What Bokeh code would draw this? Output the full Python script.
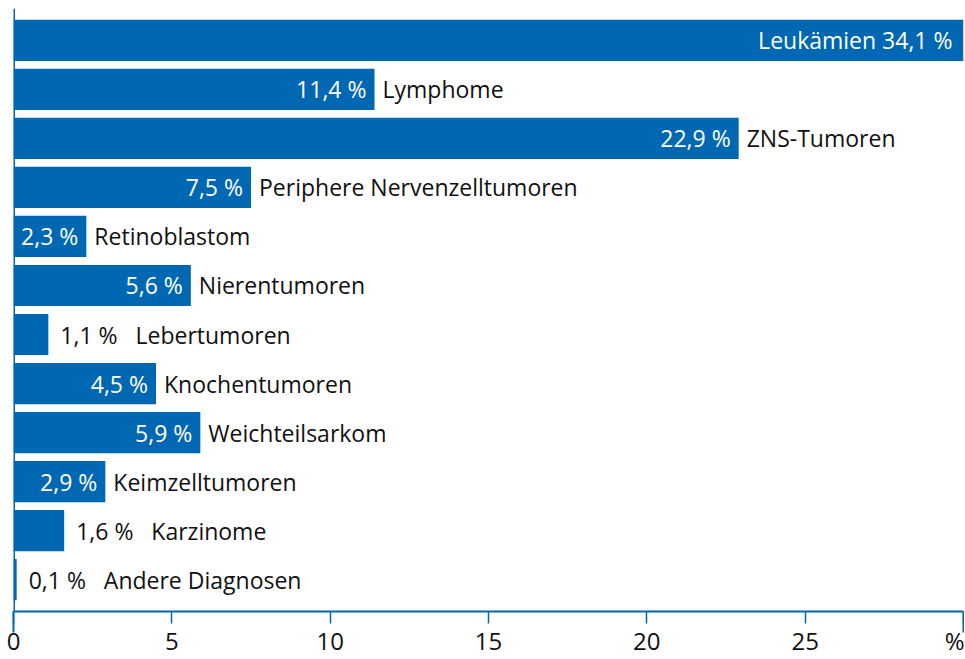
from bokeh.plotting import figure
from bokeh.models import ColumnDataSource, FactorRange, Span, FixedTicker
from bokeh.core.properties import value
from bokeh.embed import file_html
from bokeh.resources import INLINE

categories = ["Leukämien", "Lymphome", "ZNS-Tumoren", "Periphere Nervenzelltumoren",
              "Retinoblastom", "Nierentumoren", "Lebertumoren", "Knochentumoren",
              "Weichteilsarkom", "Keimzelltumoren", "Karzinome", "Andere Diagnosen"]
values = [34.1, 11.4, 22.9, 7.5, 2.3, 5.6, 1.1, 4.5, 5.9, 2.9, 1.6, 0.1]
value_labels = ["34,1 %", "11,4 %", "22,9 %", "7,5 %", "2,3 %", "5,6 %",
                "1,1 %", "4,5 %", "5,9 %", "2,9 %", "1,6 %", "0,1 %"]
x_ticks = [0, 5, 10, 15, 20, 25, 30]
x_tick_labels = ["0", "5", "10", "15", "20", "25", "%"]
x_max = 30

BLUE = "#0067B3"
FONT = "Open Sans"
FS = "23px"

p = figure(width=964, height=659, output_backend="svg", toolbar_location=None,
           x_range=(0, x_max),
           y_range=FactorRange(*reversed(categories), range_padding=0.025),
           min_border_left=13, min_border_right=1, min_border_top=8, min_border_bottom=45)
p.outline_line_color = None
p.xgrid.grid_line_color = None
p.ygrid.grid_line_color = None
p.yaxis.visible = False

bars = ColumnDataSource(dict(cat=categories, val=values))
p.hbar(y="cat", left=0, right="val", height=0.84, source=bars,
       fill_color=BLUE, line_color=None)

# labels
in_x, in_y, in_t, in_off = [], [], [], []
out_x, out_y, out_t, out_off = [], [], [], []
for c, v, lab in zip(categories, values, value_labels):
    if v > x_max:
        in_x.append(x_max); in_y.append(c); in_t.append(f"{c} {lab}"); in_off.append(-11)
    elif v >= 2:
        in_x.append(v); in_y.append(c); in_t.append(lab); in_off.append(-8)
        out_x.append(v); out_y.append(c); out_t.append(c); out_off.append(8)
    else:
        out_x.append(v); out_y.append(c); out_t.append(lab + "\u00a0\u00a0\u00a0" + c); out_off.append(12)

in_src = ColumnDataSource(dict(x=in_x, y=in_y, t=in_t, off=in_off))
out_src = ColumnDataSource(dict(x=out_x, y=out_y, t=out_t, off=out_off))
p.text(x="x", y="y", text="t", source=in_src, text_align="right", text_baseline="middle",
       x_offset="off", text_color="white", text_font=value(FONT), text_font_size=FS)
p.text(x="x", y="y", text="t", source=out_src, text_align="left", text_baseline="middle",
       x_offset="off", text_color="#111111", text_font=value(FONT), text_font_size=FS)

p.add_layout(Span(location=0, dimension="height", line_color=BLUE, line_width=3))

ax = p.xaxis[0]
ax.ticker = FixedTicker(ticks=x_ticks, minor_ticks=[x_ticks[0], x_ticks[-1]])
ax.major_label_overrides = {t: l for t, l in zip(x_ticks, x_tick_labels)}
ax.axis_line_color = BLUE
ax.axis_line_width = 2
ax.major_tick_line_color = BLUE
ax.major_tick_line_width = 1.5
ax.major_tick_out = 12
ax.major_tick_in = 0
ax.minor_tick_line_color = BLUE
ax.minor_tick_line_width = 2
ax.minor_tick_out = 21
ax.minor_tick_in = 0
ax.major_label_text_font = FONT
ax.major_label_text_font_size = "24px"
ax.major_label_text_color = "#111111"
ax.major_label_standoff = -9

open("out.html", "w").write(file_html(p, INLINE))
